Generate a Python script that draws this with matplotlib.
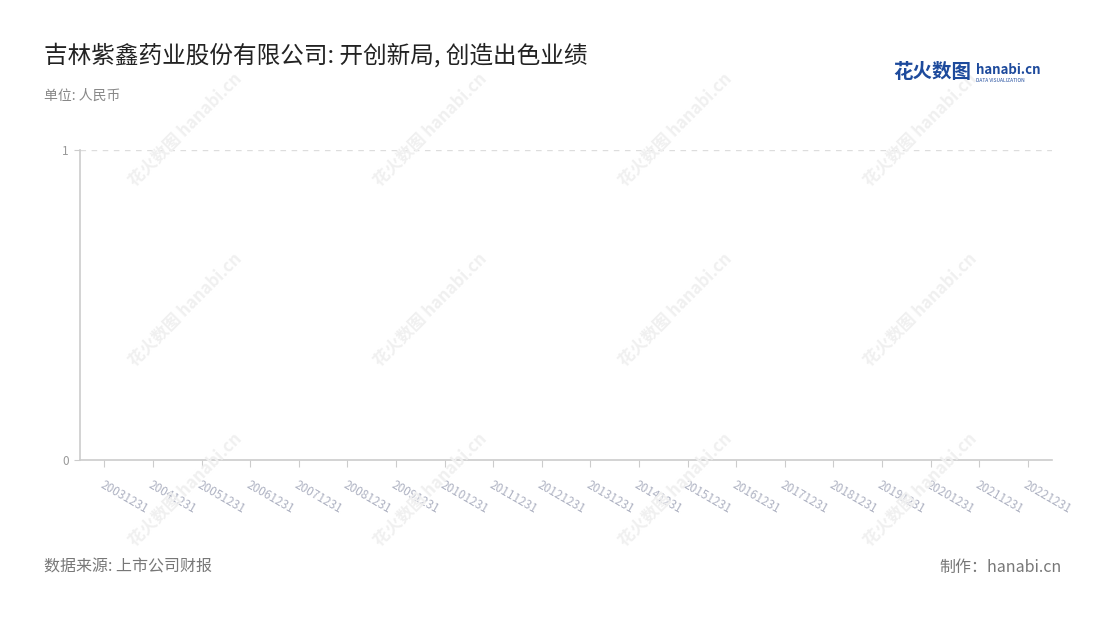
import matplotlib
matplotlib.use("Agg")
import matplotlib.pyplot as plt

plt.rcParams['font.family'] = ['Noto Sans CJK SC', 'DejaVu Sans']

TITLE = "吉林紫鑫药业股份有限公司: 开创新局, 创造出色业绩"
UNIT = "单位: 人民币"
SOURCE = "数据来源: 上市公司财报"
MAKER = "制作：hanabi.cn"

periods = ["20031231", "20041231", "20051231", "20061231", "20071231",
           "20081231", "20091231", "20101231", "20111231", "20121231",
           "20131231", "20141231", "20151231", "20161231", "20171231",
           "20181231", "20191231", "20201231", "20211231", "20221231"]
y_ticks = [0, 1]

fig = plt.figure(figsize=(11, 6.2), dpi=100)
ax = fig.add_axes([80 / 1100, 1 - 460 / 620, 972 / 1100, 310 / 620])

# watermarks
for cx in [185, 430, 675, 920]:
    for cy in [130, 310, 490]:
        fig.text(cx / 1100, 1 - cy / 620, "花火数图 hanabi.cn", rotation=45,
                 ha="center", va="center", fontsize=12, color="#f0f0f0",
                 fontweight="bold", zorder=0)

ax.set_xlim(-0.5, len(periods) - 0.5)
ax.set_ylim(0, 1)
ax.set_xticks(range(len(periods)))
ax.set_xticklabels(periods, rotation=-30, ha="left", va="top",
                   rotation_mode="anchor", fontsize=8.5, color="#aeb2c2")
ax.set_yticks(y_ticks)
ax.set_yticklabels([str(v) for v in y_ticks], fontsize=8.5, color="#999999")
ax.tick_params(axis="x", length=5, color="#cccccc", pad=8)
ax.tick_params(axis="y", length=4, color="#cccccc", pad=4)
for v in y_ticks[1:]:
    ax.axhline(v, color="#dddddd", lw=1, ls=(0, (4, 4)))
for s in ["top", "right"]:
    ax.spines[s].set_visible(False)
ax.spines["left"].set_color("#cccccc")
ax.spines["bottom"].set_color("#cccccc")
ax.spines["left"].set_linewidth(1.2)
ax.spines["bottom"].set_linewidth(1.2)
ax.patch.set_alpha(0)

fig.text(44 / 1100, 1 - 55 / 620, TITLE, fontsize=17, color="#222222",
         ha="left", va="center")
fig.text(44 / 1100, 1 - 96 / 620, UNIT, fontsize=10, color="#888888",
         ha="left", va="center")
fig.text(44 / 1100, 1 - 567 / 620, SOURCE, fontsize=11.5, color="#777777",
         ha="left", va="center")
fig.text(1062 / 1100, 1 - 567 / 620, MAKER, fontsize=11.5, color="#777777",
         ha="right", va="center")

# logo
fig.text(893 / 1100, 1 - 73 / 620, "花火数图", fontsize=14, color="#1d4a9c",
         fontweight="bold", ha="left", va="center")
fig.text(976 / 1100, 1 - 70 / 620, "hanabi.cn", fontsize=9.5, color="#1d4a9c",
         fontweight="bold", ha="left", va="center")
fig.text(976 / 1100, 1 - 80 / 620, "DATA VISUALIZATION", fontsize=3.5,
         color="#1d4a9c", ha="left", va="center")

fig.savefig("out.png", dpi=100)
